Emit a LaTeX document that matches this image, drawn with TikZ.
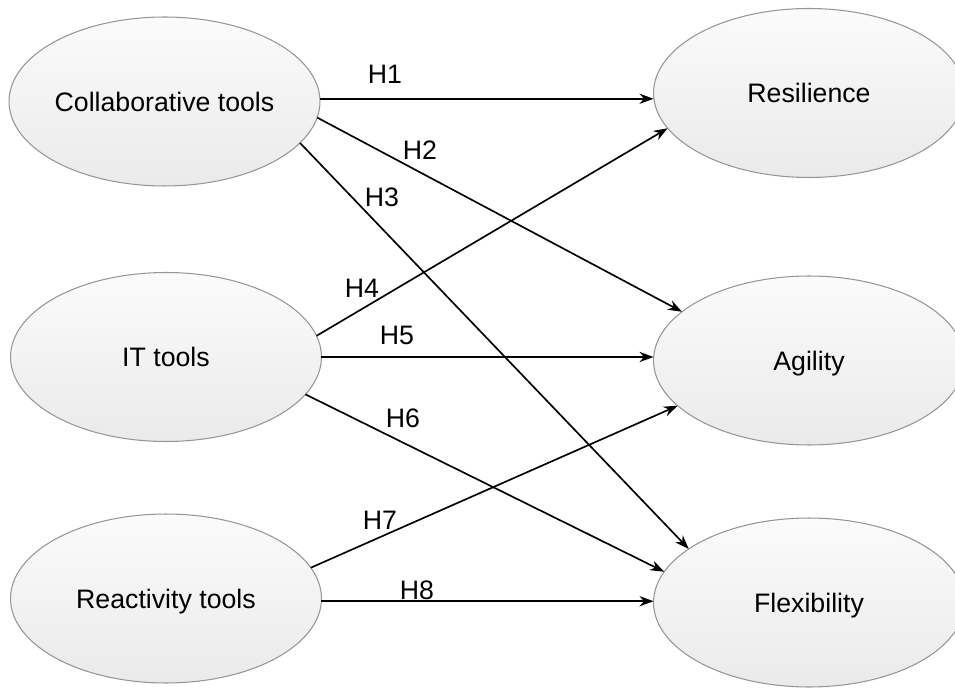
\documentclass[tikz,border=0pt]{standalone}
\usepackage{fontspec}
\setmainfont{Liberation Sans}
\usetikzlibrary{shapes.geometric,arrows.meta}
\definecolor{rimgray}{RGB}{150,150,150}
\definecolor{shadetop}{RGB}{251,251,251}
\definecolor{shadebot}{RGB}{234,234,234}

\begin{document}
\begin{tikzpicture}[x=0.02cm,y=-0.02cm,
  construct/.style={ellipse,draw=rimgray,line width=0.6pt,top color=shadetop,bottom color=shadebot,
    minimum width=6.22cm,minimum height=3.38cm,inner sep=0pt,outer sep=0pt,text depth=0pt,
    font=\fontsize{15.2}{18}\selectfont},
  hyp/.style={line width=0.95pt,-{Stealth[length=8pt,width=5.8pt,inset=2.6pt]}},
  hlabel/.style={text depth=0pt,inner sep=0pt,font=\fontsize{15.2}{18}\selectfont}]
\useasboundingbox (0,0) rectangle (955,688);
% causes
\node[construct] (collab) at (164.5,101.5) {Collaborative tools};
\node[construct] (ittools) at (166,357) {IT tools};
\node[construct] (react) at (166,598.5) {Reactivity tools};
% effects
\node[construct] (resil) at (809,93) {Resilience};
\node[construct] (agil) at (809,360.5) {Agility};
\node[construct] (flex) at (809,602.5) {Flexibility};
% hypotheses
\draw[hyp] (collab.1.3) -- (collab.1.3 -| resil.west);
\draw[hyp] (collab.-6.1) -- (agil.159.5);
\draw[hyp] (collab.-17.6) -- (flex.156.8);
\draw[hyp] (ittools.8.3) -- (resil.-166.2);
\draw[hyp] (ittools.0) -- (ittools.0 -| agil.west);
\draw[hyp] (ittools.-15.1) -- (flex.168.8);
\draw[hyp] (react.12) -- (agil.-161.6);
\draw[hyp] (react.-1.7) -- (react.-1.7 -| flex.west);
\node[hlabel] (h1) at (385,74) {H1};
\node[hlabel] (h2) at (420,150) {H2};
\node[hlabel] (h3) at (382,197) {H3};
\node[hlabel] (h4) at (362,288) {H4};
\node[hlabel] (h5) at (397,335) {H5};
\node[hlabel] (h6) at (403,418) {H6};
\node[hlabel] (h7) at (380,520) {H7};
\node[hlabel] (h8) at (417,590) {H8};

\end{tikzpicture}
\end{document}
